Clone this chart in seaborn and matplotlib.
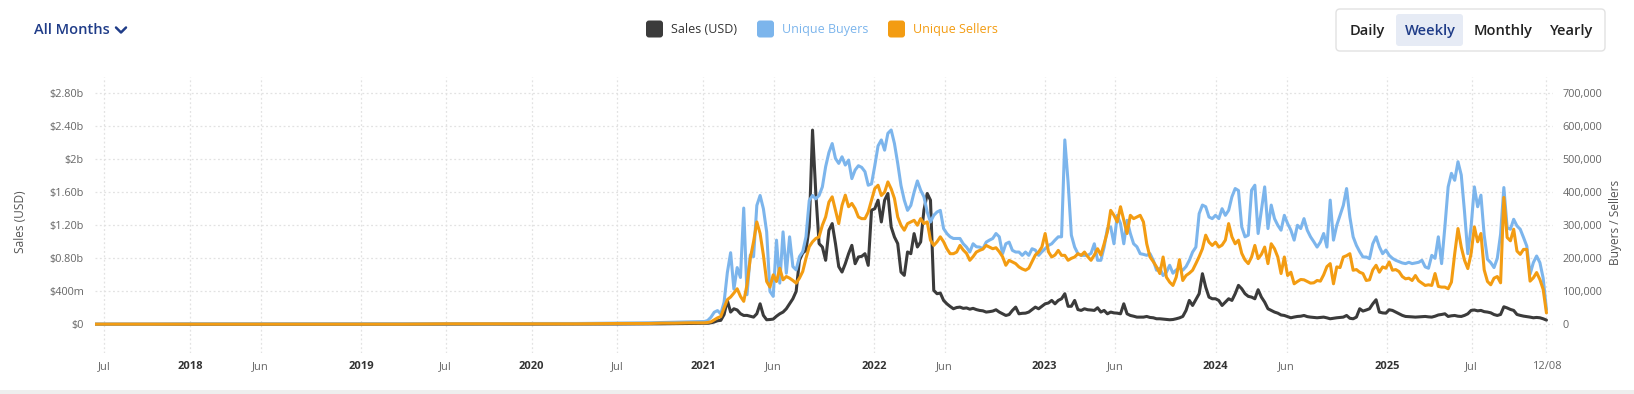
import pandas as pd
import matplotlib.pyplot as plt
from matplotlib.patches import FancyBboxPatch, Rectangle
from matplotlib.lines import Line2D
import seaborn as sns

sns.set_theme(style='white')
plt.rcParams['font.family'] = ['Open Sans', 'DejaVu Sans']
plt.rcParams['lines.solid_joinstyle'] = 'round'

# --- data -------------------------------------------------------------
# quiet years before the boom (sparse points, values near zero)
early_dates = ['2017-06-12', '2017-10-02', '2018-01-01', '2018-04-02', '2018-07-02',
               '2018-10-01', '2019-01-07', '2019-04-01', '2019-07-01', '2019-10-07',
               '2020-01-06', '2020-04-06', '2020-07-06', '2020-09-07', '2020-10-05',
               '2020-11-02', '2020-11-30', '2020-12-28']
early_sales = [2, 2, 3, 3, 3, 3, 3, 3, 4, 4, 5, 5, 6, 7, 8, 10, 12, 14]   # $m
early_buyers = [1, 1, 2, 2, 2, 2, 2, 2, 2, 2, 3, 3, 4, 5, 6, 7, 8, 9]     # thousands
early_sellers = [1, 1, 1, 1, 1, 1, 1, 1, 2, 2, 2, 2, 3, 3, 4, 4, 5, 5]    # thousands

# weekly values from 2021-01-04 to 2025-12-08
sales_weekly = [
    15, 15, 20, 30, 45, 50, 120, 290, 150, 190,
    175, 130, 109, 110, 100, 89, 130, 250, 110, 57,
    60, 65, 100, 129, 150, 190, 250, 311, 400, 776,
    865, 897, 1180, 2351, 1584, 978, 937, 776, 1139, 1220,
    978, 700, 634, 735, 856, 957, 735, 816, 824, 856,
    715, 1382, 1400, 1503, 1240, 1503, 1584, 1180, 1058, 978,
    634, 594, 877, 856, 1099, 937, 998, 1382, 1584, 1503,
    412, 372, 380, 291, 250, 218, 190, 205, 210, 195,
    200, 185, 195, 180, 170, 165, 150, 155, 162, 178,
    150, 129, 109, 120, 170, 210, 129, 135, 137, 150,
    180, 210, 190, 220, 250, 260, 291, 250, 291, 311,
    372, 220, 220, 291, 180, 170, 190, 178, 175, 170,
    202, 150, 170, 129, 150, 140, 137, 129, 250, 129,
    109, 100, 89, 89, 89, 97, 85, 81, 69, 69,
    65, 61, 57, 60, 69, 80, 97, 170, 291, 230,
    300, 372, 614, 452, 331, 311, 311, 290, 230, 270,
    311, 291, 372, 473, 432, 372, 340, 331, 311, 420,
    331, 270, 190, 170, 150, 137, 115, 109, 95, 81,
    90, 97, 100, 109, 95, 89, 85, 81, 85, 89,
    80, 69, 75, 81, 85, 89, 109, 75, 69, 89,
    190, 162, 175, 190, 250, 299, 150, 140, 137, 178,
    170, 150, 129, 110, 97, 95, 92, 89, 92, 95,
    97, 92, 89, 100, 115, 121, 129, 97, 105, 109,
    100, 97, 110, 129, 170, 175, 165, 170, 155, 150,
    141, 120, 109, 121, 214, 200, 182, 170, 121, 110,
    101, 95, 89, 81, 85, 81, 69, 53,
]

buyers_weekly = [
    9, 12, 22, 37, 42, 32, 67, 157, 217, 107,
    172, 142, 352, 90, 210, 205, 360, 390, 350, 280,
    100, 85, 255, 125, 280, 155, 265, 175, 165, 205,
    220, 265, 375, 390, 380, 390, 416, 477, 520, 547,
    502, 487, 507, 482, 497, 441, 467, 480, 475, 462,
    421, 425, 480, 540, 558, 527, 578, 588, 547, 487,
    420, 376, 345, 360, 400, 434, 406, 386, 340, 310,
    330, 340, 345, 290, 275, 265, 260, 260, 260, 244,
    234, 219, 244, 235, 234, 229, 249, 255, 260, 275,
    265, 214, 244, 249, 224, 219, 219, 209, 219, 209,
    229, 225, 209, 220, 229, 239, 244, 255, 265, 265,
    558, 430, 270, 234, 214, 209, 209, 209, 215, 244,
    194, 194, 234, 290, 295, 244, 330, 305, 244, 315,
    275, 244, 235, 214, 212, 209, 214, 194, 164, 170,
    148, 158, 179, 155, 165, 170, 164, 175, 194, 219,
    234, 335, 361, 356, 325, 320, 330, 320, 350, 330,
    345, 386, 411, 405, 295, 265, 270, 406, 421, 275,
    345, 416, 290, 361, 320, 300, 285, 330, 305, 285,
    255, 300, 290, 320, 285, 265, 250, 234, 249, 275,
    234, 376, 255, 300, 330, 360, 411, 325, 265, 239,
    220, 204, 204, 199, 244, 265, 235, 214, 225, 209,
    200, 194, 190, 186, 184, 188, 184, 186, 188, 194,
    174, 170, 209, 200, 265, 184, 295, 416, 457, 436,
    492, 452, 340, 214, 295, 416, 356, 391, 270, 197,
    187, 172, 200, 273, 414, 293, 288, 318, 298, 288,
    263, 237, 152, 187, 207, 187, 140, 45,
]

sellers_weekly = [
    5, 6, 8, 14, 20, 24, 50, 75, 83, 95,
    108, 85, 70, 120, 200, 250, 310, 275, 210, 130,
    113, 150, 130, 170, 135, 145, 140, 133, 125, 140,
    160, 200, 235, 250, 260, 265, 300, 325, 370, 386,
    345, 305, 360, 391, 356, 366, 350, 325, 320, 320,
    340, 376, 411, 421, 390, 400, 431, 410, 381, 325,
    300, 285, 305, 310, 315, 300, 320, 305, 310, 255,
    239, 250, 265, 250, 229, 214, 214, 219, 239, 225,
    215, 194, 205, 219, 224, 228, 239, 234, 229, 232,
    220, 205, 179, 194, 189, 184, 174, 168, 164, 170,
    190, 210, 219, 234, 275, 220, 204, 210, 224, 209,
    209, 194, 200, 204, 214, 209, 219, 205, 194, 210,
    229, 210, 244, 280, 345, 330, 310, 356, 315, 275,
    330, 320, 325, 330, 310, 244, 204, 190, 174, 154,
    204, 143, 128, 118, 143, 196, 133, 148, 155, 164,
    184, 205, 229, 270, 249, 239, 249, 234, 240, 255,
    305, 265, 244, 255, 215, 195, 184, 204, 239, 199,
    212, 234, 184, 244, 229, 204, 154, 204, 148, 158,
    123, 130, 136, 135, 130, 125, 126, 133, 131, 150,
    175, 184, 123, 174, 172, 204, 208, 214, 164, 166,
    158, 154, 133, 135, 165, 179, 158, 174, 170, 189,
    164, 166, 160, 145, 138, 140, 133, 148, 132, 125,
    118, 120, 118, 154, 115, 113, 113, 108, 128, 214,
    290, 234, 194, 169, 214, 295, 250, 275, 165, 130,
    120, 140, 145, 126, 384, 263, 253, 288, 222, 212,
    227, 227, 131, 141, 157, 136, 106, 35,
]

tick_dates = ['2017-07-01', '2018-01-01', '2018-06-01', '2019-01-01', '2019-07-01',
              '2020-01-01', '2020-07-01', '2021-01-01', '2021-06-01', '2022-01-01',
              '2022-06-01', '2023-01-01', '2023-06-01', '2024-01-01', '2024-06-01',
              '2025-01-01', '2025-07-01', '2025-12-08']
tick_labels = ['Jul', '2018', 'Jun', '2019', 'Jul', '2020', 'Jul', '2021', 'Jun', '2022',
               'Jun', '2023', 'Jun', '2024', 'Jun', '2025', 'Jul', '12/08']

sales_ticks = [0, 400, 800, 1200, 1600, 2000, 2400, 2800]
sales_tick_labels = ['$0', '$400m', '$0.80b', '$1.20b', '$1.60b', '$2b', '$2.40b', '$2.80b']
count_ticks = [0, 100, 200, 300, 400, 500, 600, 700]
count_tick_labels = ['0', '100,000', '200,000', '300,000', '400,000', '500,000', '600,000', '700,000']

assert len(sales_weekly) == len(buyers_weekly) == len(sellers_weekly)
weekly_dates = pd.date_range('2021-01-04', periods=len(sales_weekly), freq='7D')

df = pd.DataFrame({
    'date': pd.to_datetime(early_dates).append(weekly_dates),
    'sales': early_sales + sales_weekly,
    'buyers': early_buyers + buyers_weekly,
    'sellers': early_sellers + sellers_weekly,
})

# --- figure -----------------------------------------------------------
W, H = 1634, 394
fig = plt.figure(figsize=(W / 100, H / 100), dpi=100)
ax = fig.add_axes([95 / W, 1 - 353 / H, (1553 - 95) / W, (353 - 77) / H])
ax2 = ax.twinx()

c_sales, c_buy, c_sell = '#3b3b3b', '#7cb5ec', '#f39c12'
sns.lineplot(data=df, x='date', y='sales', ax=ax, color=c_sales, lw=2.2, estimator=None)
sns.lineplot(data=df, x='date', y='buyers', ax=ax2, color=c_buy, lw=2.2, estimator=None)
sns.lineplot(data=df, x='date', y='sellers', ax=ax2, color=c_sell, lw=2.2, estimator=None)

ax.set_xlim(pd.Timestamp('2017-06-12'), pd.Timestamp('2025-12-22'))
ax.set_ylim(-345, 2993)
ax2.set_ylim(-86.25, 748.25)

ax.set_xticks(pd.to_datetime(tick_dates))
ax.set_xticklabels(tick_labels)
ax.set_yticks(sales_ticks)
ax.set_yticklabels(sales_tick_labels)
ax2.set_yticks(count_ticks)
ax2.set_yticklabels(count_tick_labels)

for a in (ax, ax2):
    a.set_xlabel('')
    a.set_ylabel('')
    for s in a.spines.values():
        s.set_visible(False)
    a.tick_params(length=0)

ax.grid(True, axis='both', color='#e2e2e2', lw=0.9, ls=(0, (1.5, 2)))
ax2.grid(False)
ax.tick_params(axis='x', pad=6, labelsize=8, labelcolor='#666666')
ax.tick_params(axis='y', pad=8, labelsize=7.8, labelcolor='#666666')
ax2.tick_params(axis='y', pad=7, labelsize=7.8, labelcolor='#666666')
for lab in ax.get_xticklabels():
    if lab.get_text().isdigit():
        lab.set_fontweight('bold')
        lab.set_color('#333333')

fig.text(20 / W, 1 - 222 / H, 'Sales (USD)', rotation=90, ha='center', va='center',
         fontsize=8.6, color='#555555')
fig.text(1615 / W, 1 - 222 / H, 'Buyers / Sellers', rotation=90, ha='center', va='center',
         fontsize=8.6, color='#555555')

# --- header: dropdown, legend, period buttons (pixel overlay) ---------
ov = fig.add_axes([0, 0, 1, 1])
ov.set_xlim(0, W)
ov.set_ylim(H, 0)
ov.axis('off')

navy = '#1f3c88'
ov.text(34, 30, 'All Months', fontsize=10.5, color=navy, weight='semibold', va='center')
ov.add_line(Line2D([116, 121, 126], [27.5, 32.5, 27.5], color=navy, lw=1.8,
                   solid_capstyle='round'))

legend_items = [('Sales (USD)', c_sales, '#333333', 646),
                ('Unique Buyers', c_buy, c_buy, 757),
                ('Unique Sellers', c_sell, c_sell, 888)]
for label, col, tcol, x0 in legend_items:
    ov.add_patch(FancyBboxPatch((x0, 20.5), 17, 17, boxstyle='round,pad=0,rounding_size=3',
                                fc=col, ec='none'))
    ov.text(x0 + 25, 29.5, label, fontsize=9, color=tcol, va='center')

ov.add_patch(FancyBboxPatch((1336, 9), 269, 42, boxstyle='round,pad=0,rounding_size=4',
                            fc='white', ec='#e2e2e2', lw=1))
ov.add_patch(FancyBboxPatch((1396, 14), 67, 32, boxstyle='round,pad=0,rounding_size=3',
                            fc='#e6ebf5', ec='none'))
for label, xc, col in [('Daily', 1367, '#222222'), ('Weekly', 1430, navy),
                       ('Monthly', 1503, '#222222'), ('Yearly', 1572, '#222222')]:
    ov.text(xc, 30.5, label, fontsize=10.5, color=col, weight='semibold',
            ha='center', va='center')

ov.add_patch(Rectangle((0, 390), W, 4, fc='#eeeeee', ec='none'))

fig.savefig('out.png', dpi=100)
